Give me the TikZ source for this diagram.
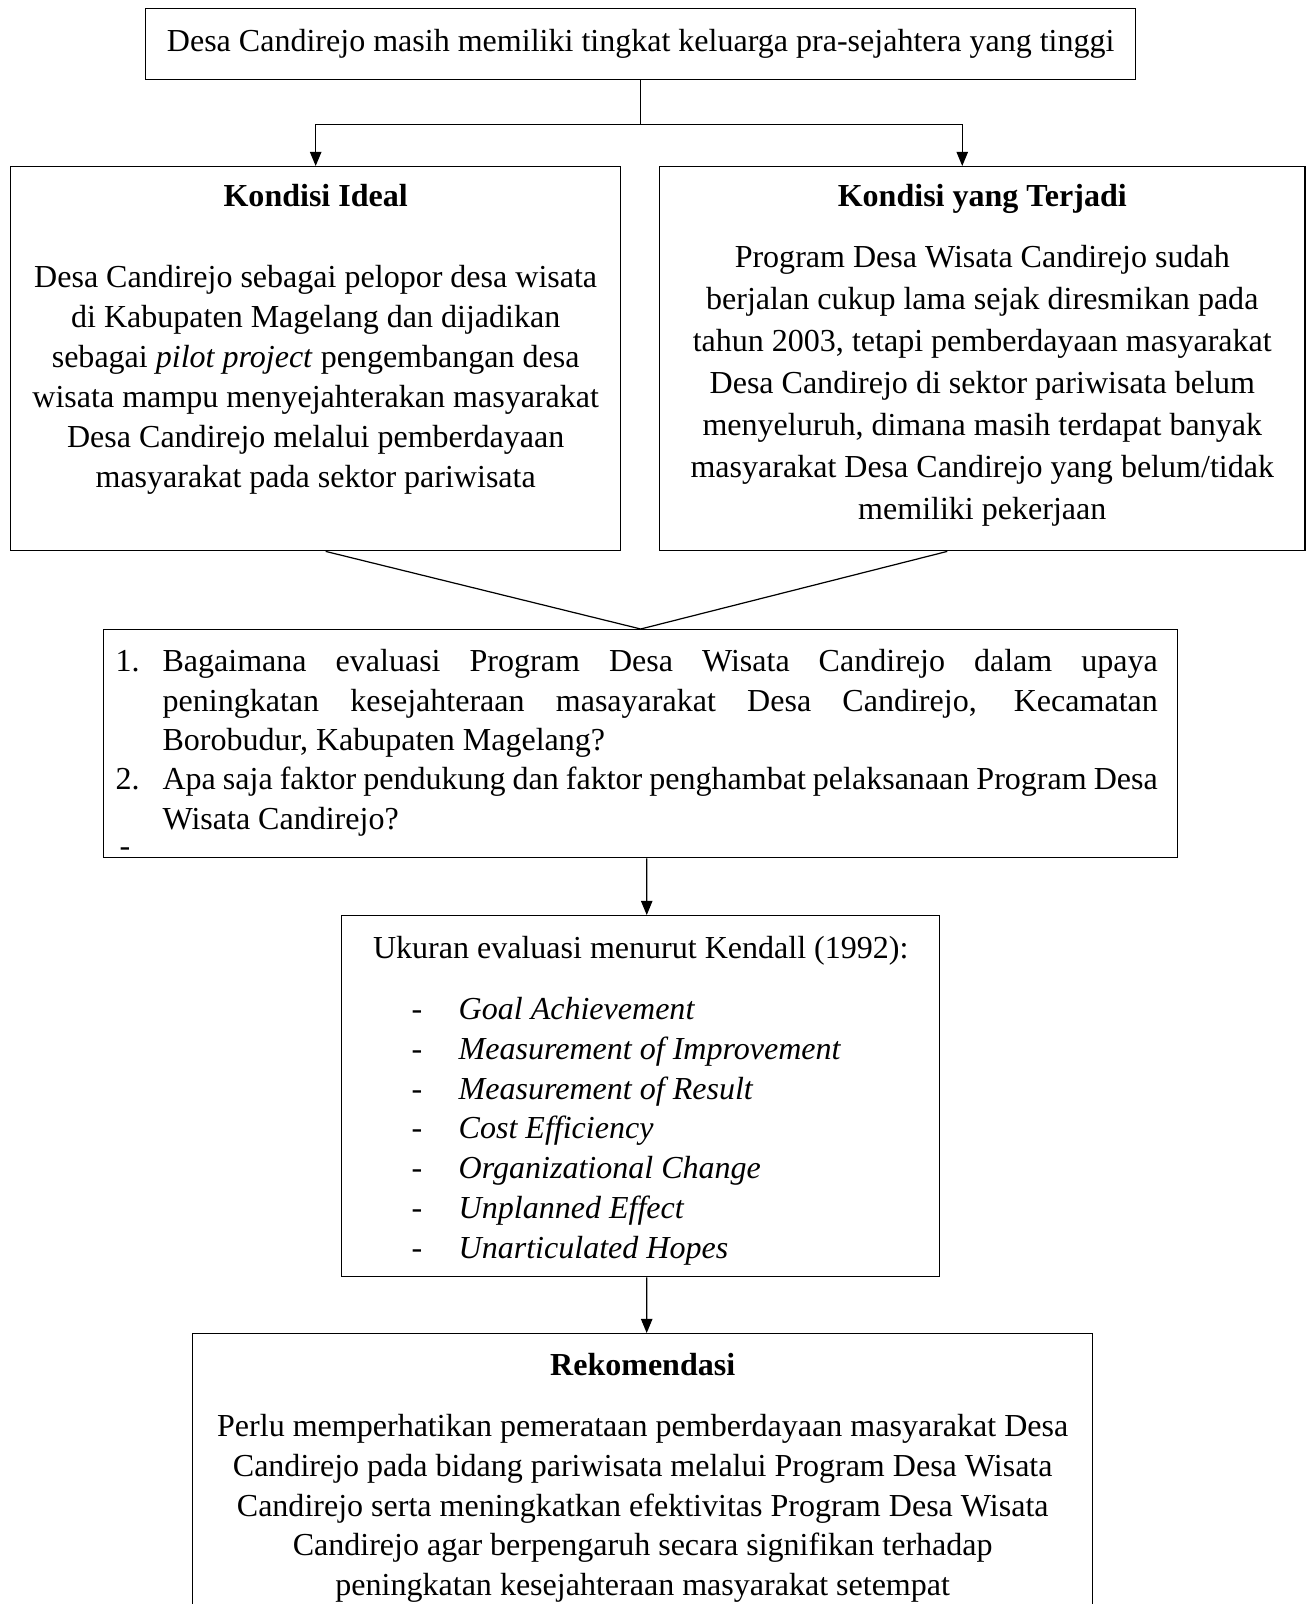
\documentclass[tikz,border=0pt]{standalone}
\usepackage{fontspec}
\setmainfont{Liberation Serif}
\usepackage{tikz}
\usetikzlibrary{arrows.meta, positioning}
\usetikzlibrary{calc}

\tikzset{
  kotak/.style={draw, line width=0.5pt, inner sep=0pt, anchor=north west},
  garis/.style={line width=0.45pt},
  panah/.style={garis, -{Triangle[length=5.2pt,width=4.2pt]}},
}

\begin{document}
\begin{tikzpicture}[x=0.37pt, y=-0.37pt, font=\fontsize{11.85}{14.8}\selectfont]
        \useasboundingbox (0,0) rectangle (1308,1604);
        \clip (0,0) rectangle (1308,1604);

        \node[kotak, minimum width=366.3pt, minimum height=26.3pt] (masalah) at (145,8)
          {Desa Candirejo masih memiliki tingkat keluarga pra-sejahtera yang tinggi};

        \node[kotak] (ideal) at (10,166) {\parbox[t][142.1pt][t]{225.7pt}{\centering
          \rule{0pt}{14.8pt}\textbf{Kondisi Ideal}\\[15.2pt]
          Desa Candirejo sebagai pelopor desa wisata\\
          di Kabupaten Magelang dan dijadikan\\
          sebagai \textit{pilot project} pengembangan desa\\
          wisata mampu menyejahterakan masyarakat\\
          Desa Candirejo melalui pemberdayaan\\
          masyarakat pada sektor pariwisata}};

        \node[kotak] (nyata) at (659,166) {\parbox[t][142.1pt][t]{238.7pt}{\fontsize{11.85}{15.5}\selectfont\centering
          \rule{0pt}{14.8pt}\textbf{Kondisi yang Terjadi}\\[7.1pt]
          Program Desa Wisata Candirejo sudah\\
          berjalan cukup lama sejak diresmikan pada\\
          tahun 2003, tetapi pemberdayaan masyarakat\\
          Desa Candirejo di sektor pariwisata belum\\
          menyeluruh, dimana masih terdapat banyak\\
          masyarakat Desa Candirejo yang belum/tidak\\
          memiliki pekerjaan}};

        \node[kotak] (rumusan) at (103,629) {\parbox[t][84.4pt][t]{397.4pt}{\fontsize{11.85}{14.6}\selectfont
          \leftskip=4.4pt \rightskip=7.4pt \parindent=0pt
          \hyphenpenalty=10000 \emergencystretch=2em
          \hangindent=17.4pt \hangafter=1
          \rule{0pt}{15.5pt}\makebox[17.4pt][l]{1.}Bagaimana evaluasi Program Desa Wisata Candirejo dalam upaya\linebreak
          peningkatan kesejahteraan masayarakat Desa Candirejo, Kecamatan\linebreak
          Borobudur, Kabupaten Magelang?\par
          \hangindent=17.4pt \hangafter=1
          \makebox[17.4pt][l]{2.}Apa saja faktor pendukung dan faktor penghambat pelaksanaan Program Desa\linebreak
          Wisata Candirejo?\par
          \vspace{-4.6pt}\hspace*{1.5pt}-\par}};

        \node[kotak] (ukuran) at (341,915) {\parbox[t][133.6pt][t]{221.3pt}{\fontsize{11.85}{14.7}\selectfont\raggedright
          \makebox[\linewidth][c]{\rule{0pt}{15.9pt}Ukuran evaluasi menurut Kendall (1992):}\\[7.9pt]
          \hspace*{25.9pt}\makebox[17.4pt][l]{-}\textit{Goal Achievement}\\
          \hspace*{25.9pt}\makebox[17.4pt][l]{-}\textit{Measurement of Improvement}\\
          \hspace*{25.9pt}\makebox[17.4pt][l]{-}\textit{Measurement of Result}\\
          \hspace*{25.9pt}\makebox[17.4pt][l]{-}\textit{Cost Efficiency}\\
          \hspace*{25.9pt}\makebox[17.4pt][l]{-}\textit{Organizational Change}\\
          \hspace*{25.9pt}\makebox[17.4pt][l]{-}\textit{Unplanned Effect}\\
          \hspace*{25.9pt}\makebox[17.4pt][l]{-}\textit{Unarticulated Hopes}}};

        \node[kotak] (rekomendasi) at (192,1333) {\parbox[t][111pt][t]{333pt}{\fontsize{11.85}{14.7}\selectfont\centering
          \rule{0pt}{15.5pt}\textbf{Rekomendasi}\\[7.9pt]
          Perlu memperhatikan pemerataan pemberdayaan masyarakat Desa\\
          Candirejo pada bidang pariwisata melalui Program Desa Wisata\\
          Candirejo serta meningkatkan efektivitas Program Desa Wisata\\
          Candirejo agar berpengaruh secara signifikan terhadap\\
          peningkatan kesejahteraan masyarakat setempat}};

        % cabang ke dua kondisi
        \coordinate (cabang) at ($(masalah.south)+(0,44)$);
        \draw[garis] (masalah.south) -- (cabang);
        \draw[panah] (cabang) -| (ideal.north);
        \draw[panah] (cabang) -| ($(nyata.north)+(-20,0)$);

        % corong ke rumusan masalah
        \draw[garis] ($(ideal.south)+(10,0)$) -- (rumusan.north) -- ($(nyata.south)+(-35,0)$);

        \draw[panah] ($(rumusan.south)+(6,0)$) -- ($(ukuran.north)+(6,0)$);
        \draw[panah] ($(ukuran.south)+(6,0)$) -- ($(rekomendasi.north)+(4,0)$);
      \end{tikzpicture}
\end{document}
